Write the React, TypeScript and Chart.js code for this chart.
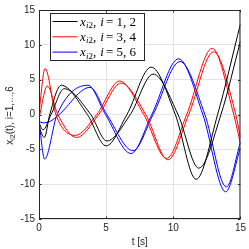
import React, { useEffect, useRef } from "react";
import { Chart, registerables } from "chart.js";
Chart.register(...registerables);

// ---- data ----
const xTickValues = [0, 5, 10, 15];
const yTickValues = [-15, -10, -5, 0, 5, 10, 15];

const blackAT = [0, 0.3, 0.9, 1.87, 3.85, 5.05, 6.8, 8.5, 10.35, 11.9, 13.55, 15];
const blackAV = [-1.2, -2.2, 0, 3.7, 0, -3.8, 0, 5.8, 0, -7.7, 0, 10.5];
const blackBT = [0, 0.4, 0.8, 1.65, 3.6, 5.0, 6.55, 8.35, 10.15, 11.7, 13.3, 15];
const blackBV = [-1.8, -3.3, 0, 4.2, 0, -4.5, 0, 6.8, 0, -9.3, 0, 13.0];

const redAT = [0, 0.45, 1.25, 2.7, 4.3, 6.0, 7.8, 9.5, 11.0, 12.9, 14.5, 15];
const redAV = [0.3, 6.6, 0, -3.0, 0, 4.8, 0, -6.3, 0, 9.5, 0, -4.2];
const redBT = [0, 0.62, 1.4, 2.8, 4.45, 6.1, 7.95, 9.6, 11.15, 13.0, 14.65, 15];
const redBV = [-0.5, 4.1, 0, -3.3, 0, 4.5, 0, -6.5, 0, 9.0, 0, -3.3];

const blueAT = [0, 0.42, 1.35, 3.65, 4.95, 6.85, 8.4, 10.4, 12.2, 13.9, 15];
const blueAV = [-1.0, -6.4, 0, 4.2, 0, -5.6, 0, 8.0, 0, -11.1, -4.8];
const blueBT = [0, 0.3, 0.9, 1.5, 3.8, 5.05, 7.0, 8.5, 10.5, 12.35, 13.95, 15];
const blueBV = [-1.0, -1.2, -0.9, 0, 3.9, 0, -5.2, 0, 7.6, 0, -10.4, -4.0];

const legendLabels = ["i = 1, 2", "i = 3, 4", "i = 5, 6"];
const legendColors = ["#000000", "#ff0000", "#0000ff"];

const toPts = (t: number[], v: number[]) => t.map((x, i) => ({ x, y: v[i] }));

const AX = "#262626";
const SANS = '"Liberation Sans", Arial, sans-serif';
const SERIF = '"Liberation Serif", "DejaVu Serif", serif';

const framePlugin = {
  id: "frame",
  afterDatasetsDraw(chart: any) {
    const { ctx, chartArea: a, scales } = chart;
    ctx.save();
    ctx.strokeStyle = AX;
    ctx.lineWidth = 1;
    ctx.beginPath();
    ctx.rect(a.left + 0.5, a.top + 0.5, a.right - a.left - 1, a.bottom - a.top - 1);
    ctx.stroke();
    // inward ticks
    const tl = 2.5;
    ctx.beginPath();
    for (const v of xTickValues) {
      const px = Math.round(scales.x.getPixelForValue(v)) + 0.5;
      ctx.moveTo(px, a.bottom);
      ctx.lineTo(px, a.bottom - tl);
      ctx.moveTo(px, a.top);
      ctx.lineTo(px, a.top + tl);
    }
    for (const v of yTickValues) {
      const py = Math.round(scales.y.getPixelForValue(v)) + 0.5;
      ctx.moveTo(a.left, py);
      ctx.lineTo(a.left + tl, py);
      ctx.moveTo(a.right, py);
      ctx.lineTo(a.right - tl, py);
    }
    ctx.stroke();

    // legend
    const lx = a.left + 11.5;
    const ly = a.top + 3.5;
    const lw = 94;
    const lh = 47;
    ctx.fillStyle = "#ffffff";
    ctx.fillRect(lx, ly, lw, lh);
    ctx.strokeStyle = AX;
    ctx.strokeRect(lx, ly, lw, lh);
    for (let i = 0; i < 3; i++) {
      const ry = ly + 8 + i * 15.3;
      ctx.strokeStyle = legendColors[i];
      ctx.lineWidth = 1;
      ctx.beginPath();
      ctx.moveTo(lx + 2, ry);
      ctx.lineTo(lx + 27, ry);
      ctx.stroke();
      ctx.fillStyle = "#000";
      ctx.textBaseline = "alphabetic";
      ctx.textAlign = "left";
      let x = lx + 29.5;
      const base = ry + 4;
      ctx.font = `italic 13px ${SERIF}`;
      ctx.fillText("x", x, base);
      x += ctx.measureText("x").width + 0.3;
      ctx.font = `italic 9px ${SERIF}`;
      ctx.fillText("i", x, base + 2.5);
      x += ctx.measureText("i").width;
      ctx.font = `9px ${SERIF}`;
      ctx.fillText("2", x, base + 2.5);
      x += ctx.measureText("2").width;
      ctx.font = `13px ${SERIF}`;
      ctx.fillText(",", x, base);
      x += ctx.measureText(",").width + 4;
      ctx.font = `italic 13px ${SERIF}`;
      ctx.fillText("i", x, base);
      x += ctx.measureText("i").width + 2;
      ctx.font = `13px ${SERIF}`;
      ctx.fillText(legendLabels[i].slice(2), x, base);
    }

    // y title
    ctx.translate(10, (a.top + a.bottom) / 2 + 1);
    ctx.rotate(-Math.PI / 2);
    ctx.fillStyle = AX;
    ctx.font = `10px ${SANS}`;
    const p1 = "x";
    const p2 = "i2";
    const p3 = "(t), i=1,...,6";
    ctx.font = `10px ${SANS}`;
    const w1 = ctx.measureText(p1).width;
    const w3 = ctx.measureText(p3).width;
    ctx.font = `7px ${SANS}`;
    const w2 = ctx.measureText(p2).width;
    let x0 = -(w1 + w2 + w3) / 2;
    ctx.textBaseline = "middle";
    ctx.font = `10px ${SANS}`;
    ctx.fillText(p1, x0, 0);
    x0 += w1;
    ctx.font = `7px ${SANS}`;
    ctx.fillText(p2, x0, 3);
    x0 += w2;
    ctx.font = `10px ${SANS}`;
    ctx.fillText(p3, x0, 0);
    ctx.restore();
  },
};

export default function App() {
  const ref = useRef<HTMLCanvasElement>(null);
  useEffect(() => {
    document.body.style.margin = "0";
    const ds = (t: number[], v: number[], c: string) => ({
      data: toPts(t, v),
      borderColor: c,
      borderWidth: 1,
      pointRadius: 0,
      fill: false,
      cubicInterpolationMode: "monotone" as const,
    });
    const chart = new Chart(ref.current!, {
      type: "line",
      data: {
        datasets: [
          ds(blackAT, blackAV, "#000000"),
          ds(blackBT, blackBV, "#000000"),
          ds(redAT, redAV, "#ff0000"),
          ds(redBT, redBV, "#ff0000"),
          ds(blueAT, blueAV, "#0000ff"),
          ds(blueBT, blueBV, "#0000ff"),
        ],
      },
      options: {
        animation: false,
        responsive: false,
        devicePixelRatio: 1,
        layout: { padding: { top: 7, right: 6, left: 0, bottom: 0 } },
        plugins: { legend: { display: false }, tooltip: { enabled: false } },
        scales: {
          x: {
            type: "linear",
            min: 0,
            max: 15,
            afterFit: (s: any) => {
              s.height = 30;
            },
            afterBuildTicks: (s: any) => {
              s.ticks = xTickValues.map((v) => ({ value: v }));
            },
            ticks: { font: { family: SANS, size: 10 }, color: AX, padding: 3, maxRotation: 0 },
            grid: { color: "#e3e3e3", drawTicks: false },
            border: { display: false },
            title: { display: true, text: "t [s]", color: AX, font: { family: SANS, size: 10 }, padding: { top: 0, bottom: 1 } },
          },
          y: {
            type: "linear",
            min: -15,
            max: 15,
            afterFit: (s: any) => {
              s.width = 39;
            },
            afterBuildTicks: (s: any) => {
              s.ticks = yTickValues.map((v) => ({ value: v }));
            },
            ticks: { font: { family: SANS, size: 10 }, color: AX, padding: 4 },
            grid: { color: "#e3e3e3", drawTicks: false },
            border: { display: false },
          },
        },
      },
      plugins: [framePlugin],
    });
    return () => chart.destroy();
  }, []);
  return <canvas ref={ref} width={249} height={249} style={{ display: "block" }} />;
}
